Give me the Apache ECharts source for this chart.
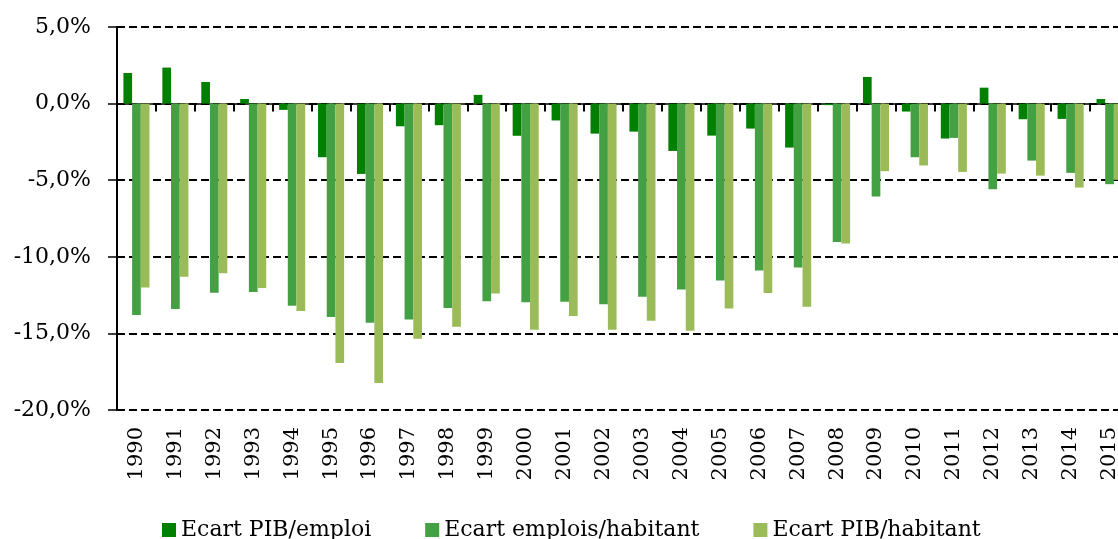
<!DOCTYPE html>
<html>
<head>
<meta charset="utf-8">
<script src="https://cdn.jsdelivr.net/npm/echarts@6/dist/echarts.min.js"></script>
<style>
html, body { margin: 0; padding: 0; background: #fff; overflow: hidden; }
#main { width: 1129px; height: 539px; }
</style>
</head>
<body>
<div id="main"></div>
<script>
var years = ['1990','1991','1992','1993','1994','1995','1996','1997','1998','1999',
    '2000','2001','2002','2003','2004','2005','2006','2007','2008','2009',
    '2010','2011','2012','2013','2014','2015'];

var pibEmploi = [2.0, 2.35, 1.41, 0.3, -0.41, -3.5, -4.59, -1.48, -1.41, 0.57,
    -2.1, -1.1, -1.96, -1.83, -3.09, -2.09, -1.63, -2.87, -0.1, 1.74,
    -0.52, -2.28, 1.04, -1.02, -1.0, 0.3];

var emploisHab = [-13.8, -13.4, -12.35, -12.3, -13.2, -13.93, -14.3, -14.09, -13.35, -12.9,
    -12.96, -12.93, -13.09, -12.6, -12.13, -11.54, -10.89, -10.7, -9.04, -6.07,
    -3.5, -2.24, -5.59, -3.72, -4.52, -5.26];

var pibHab = [-12.0, -11.3, -11.07, -12.04, -13.54, -16.93, -18.24, -15.35, -14.57, -12.4,
    -14.76, -13.87, -14.76, -14.17, -14.83, -13.37, -12.37, -13.26, -9.13, -4.41,
    -4.04, -4.46, -4.57, -4.7, -5.48, -4.98];

var seriesNames = ['Ecart PIB/emploi', 'Ecart emplois/habitant', 'Ecart PIB/habitant'];
var colors = ['#008000', '#43a043', '#9bbb59'];

var font = 'DejaVu Serif';

// the original chart runs past the right edge, so the canvas is a bit wider than the window
var chart = echarts.init(document.getElementById('main'));

function fmt(v) {
    return v.toFixed(1).replace('.', ',') + '%';
}

var option = {
    animation: false,
    color: colors,
    grid: { left: 117, top: 27, right: 0, bottom: 129, containLabel: false },
    legend: {
        left: 157,
        top: 514,
        itemWidth: 14,
        itemHeight: 14,
        itemGap: 54,
        icon: 'rect',
        textStyle: { fontFamily: font, fontSize: 22, color: '#000' },
        data: seriesNames
    },
    xAxis: [{
        type: 'category',
        data: years,
        axisLine: { onZero: true, lineStyle: { color: '#000', width: 1.5 } },
        axisTick: { show: true, length: 8, lineStyle: { color: '#000', width: 2 } },
        axisLabel: { show: false },
        splitLine: { show: false }
    }, {
        type: 'category',
        data: years,
        position: 'bottom',
        axisLine: { show: false, onZero: false },
        axisTick: { show: false },
        axisLabel: {
            rotate: 90,
            margin: 17,
            fontFamily: font,
            fontSize: 21,
            color: '#000'
        }
    }],
    yAxis: {
        type: 'value',
        min: -20,
        max: 5,
        interval: 5,
        axisLine: { show: true, lineStyle: { color: '#000', width: 2 } },
        axisTick: { show: true, length: 9, lineStyle: { color: '#000', width: 1.5 } },
        axisLabel: {
            margin: 26,
            fontFamily: font,
            fontSize: 22,
            color: '#000',
            formatter: fmt
        },
        splitLine: { lineStyle: { color: '#000', width: 2, type: [8, 4] } }
    },
    series: [
        { name: seriesNames[0], type: 'bar', data: pibEmploi, barGap: '0%', barCategoryGap: '33%' },
        { name: seriesNames[1], type: 'bar', data: emploisHab, barGap: '0%', barCategoryGap: '33%' },
        { name: seriesNames[2], type: 'bar', data: pibHab, barGap: '0%', barCategoryGap: '33%' }
    ]
};

chart.setOption(option);
</script>
</body>
</html>
